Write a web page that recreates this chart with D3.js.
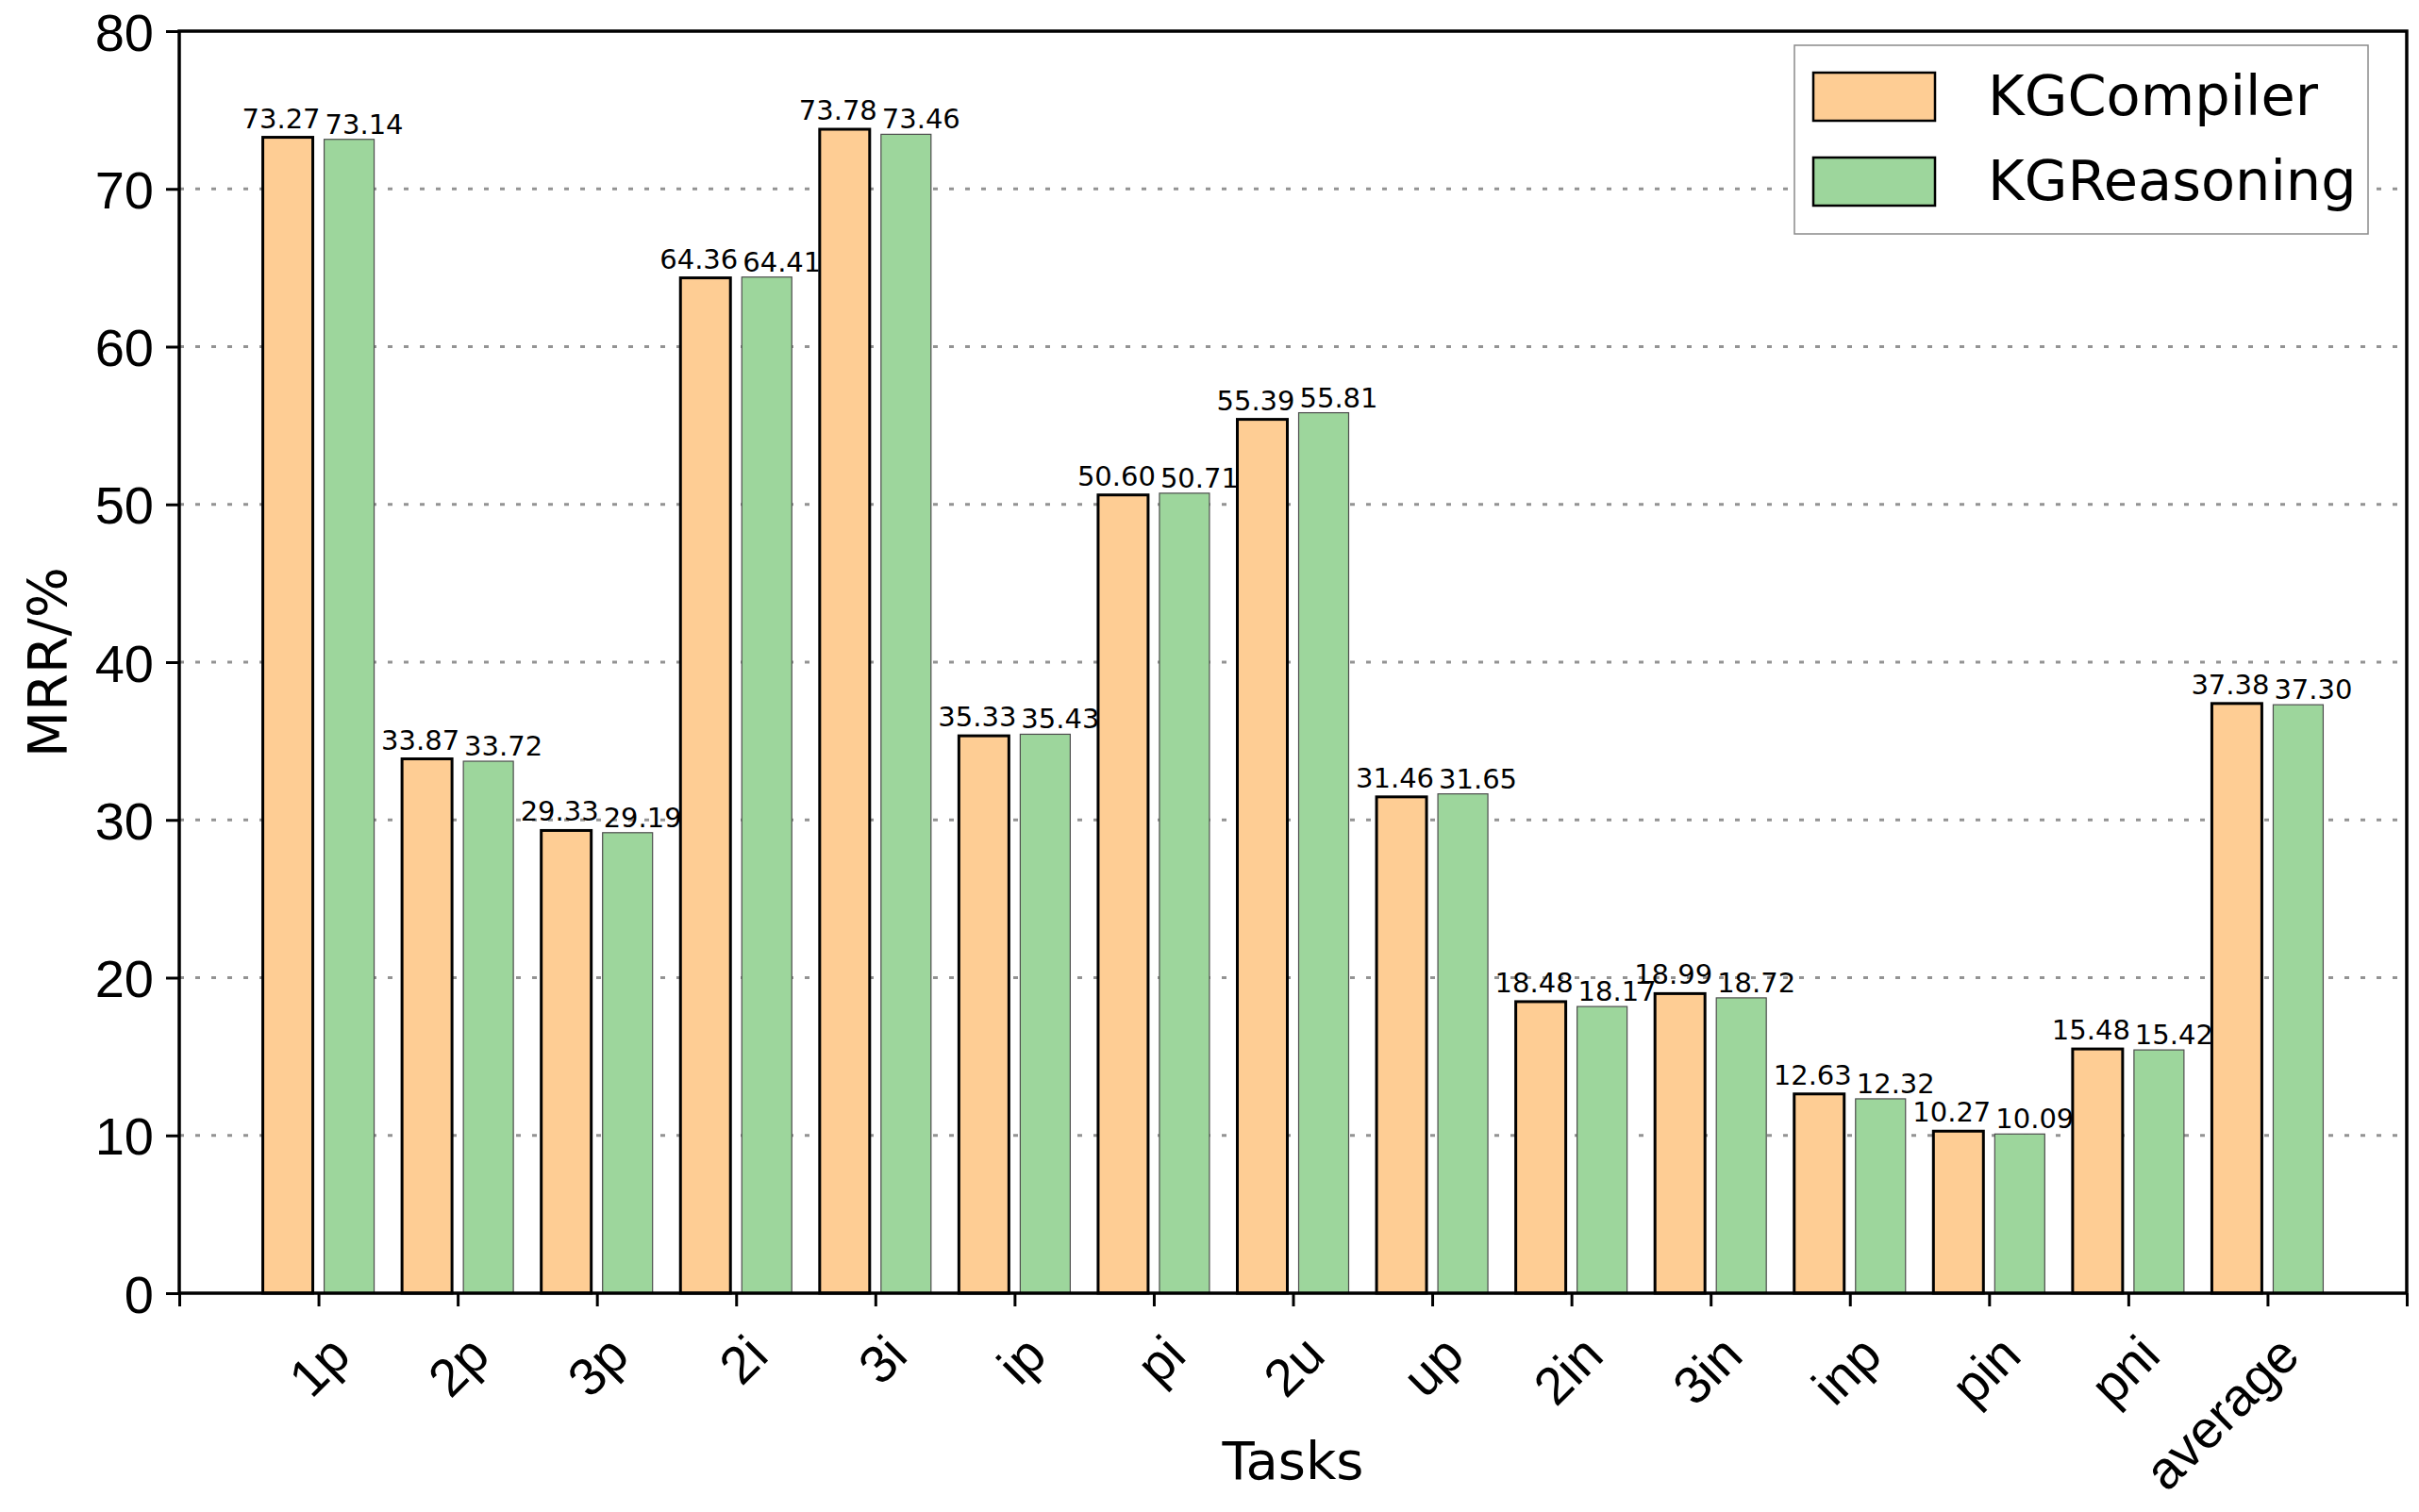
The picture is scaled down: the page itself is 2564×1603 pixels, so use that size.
<!DOCTYPE html>
<html lang="en">
<head>
    <meta charset="UTF-8">
    <title>MRR per task: KGCompiler vs KGReasoning</title>
    <script src="https://d3js.org/d3.v7.min.js"></script>
    <style>
        body {
            margin: 0;
            background: white;
        }
        svg {
            display: block;
            font-family: "DejaVu Sans", sans-serif;
        }
        .grid line {
            stroke: #939393;
            stroke-width: 3.2;
            stroke-dasharray: 5 12;
        }
    </style>
</head>
<body>

    <svg width="2564" height="1603"></svg>

    <script>
        // Data
        const tasks = ["1p", "2p", "3p", "2i", "3i", "ip", "pi", "2u", "up", "2in", "3in", "inp", "pin", "pni", "average"];
        const kgCompiler = [73.27, 33.87, 29.33, 64.36, 73.78, 35.33, 50.60, 55.39, 31.46, 18.48, 18.99, 12.63, 10.27, 15.48, 37.38];
        const kgReasoning = [73.14, 33.72, 29.19, 64.41, 73.46, 35.43, 50.71, 55.81, 31.65, 18.17, 18.72, 12.32, 10.09, 15.42, 37.30];
        const seriesNames = ["KGCompiler", "KGReasoning"];
        const yTicks = [0, 10, 20, 30, 40, 50, 60, 70, 80];

        const colors = {KGCompiler: "#fecd94", KGReasoning: "#9dd69c"};
        const edges = {KGCompiler: {stroke: "#000", width: 3}, KGReasoning: {stroke: "#4d4d4d", width: 1.2}};
        const labelShift = {KGCompiler: -7, KGReasoning: 16};
        const labelLift = {KGCompiler: 10, KGReasoning: 6};

        const plot = {left: 190, right: 2551, top: 33, bottom: 1371};

        // Scales: x positions 0..16 like matplotlib, tasks sit on 1..15
        const x = d3.scaleLinear()
            .domain([0, tasks.length + 1])
            .range([plot.left, plot.right]);

        const inner = d3.scaleBand()
            .domain(seriesNames)
            .range([-59, 59])
            .paddingInner(0.185);

        const y = d3.scaleLinear()
            .domain([0, 80])
            .range([plot.bottom, plot.top]);

        const svg = d3.select("svg");

        // Dotted grid
        svg.append("g")
            .attr("class", "grid")
            .selectAll("line")
            .data(yTicks.filter(t => t > 0 && t < 80))
            .enter().append("line")
            .attr("x1", plot.left)
            .attr("x2", plot.right)
            .attr("y1", d => y(d))
            .attr("y2", d => y(d));

        // Bars
        const rows = tasks.map((t, i) => ({
            task: t,
            idx: i + 1,
            values: [
                {name: "KGCompiler", value: kgCompiler[i]},
                {name: "KGReasoning", value: kgReasoning[i]}
            ]
        }));

        const groups = svg.append("g")
            .selectAll("g")
            .data(rows)
            .enter().append("g")
            .attr("transform", d => `translate(${x(d.idx)},0)`);

        groups.selectAll("rect")
            .data(d => d.values)
            .enter().append("rect")
            .attr("x", d => inner(d.name))
            .attr("width", inner.bandwidth())
            .attr("y", d => y(d.value))
            .attr("height", d => y(0) - y(d.value))
            .attr("fill", d => colors[d.name])
            .attr("stroke", d => edges[d.name].stroke)
            .attr("stroke-width", d => edges[d.name].width);

        // Value labels
        groups.selectAll("text")
            .data(d => d.values)
            .enter().append("text")
            .attr("x", d => inner(d.name) + inner.bandwidth() / 2 + labelShift[d.name])
            .attr("y", d => y(d.value) - labelLift[d.name])
            .attr("text-anchor", "middle")
            .style("font-size", "29px")
            .text(d => d.value.toFixed(2));

        // Axes
        const xAxis = svg.append("g")
            .attr("transform", `translate(0,${plot.bottom})`)
            .call(d3.axisBottom(x)
                .tickValues(d3.range(0, tasks.length + 2))
                .tickFormat(i => tasks[i - 1] || "")
                .tickSize(14));

        xAxis.select(".domain").remove();
        xAxis.selectAll(".tick line").attr("stroke", "#000").attr("stroke-width", 3);
        xAxis.selectAll(".tick text")
            .attr("x", 0)
            .attr("y", 0)
            .attr("dy", null)
            .attr("fill", "#000")
            .attr("text-anchor", "end")
            .attr("transform", "translate(36,69) rotate(-45)")
            .style("font-size", "56px");

        const yAxis = svg.append("g")
            .attr("transform", `translate(${plot.left},0)`)
            .call(d3.axisLeft(y)
                .tickValues(yTicks)
                .tickSize(14)
                .tickPadding(13));

        yAxis.select(".domain").remove();
        yAxis.selectAll(".tick line").attr("stroke", "#000").attr("stroke-width", 3);
        yAxis.selectAll(".tick text")
            .attr("fill", "#000")
            .attr("dy", "0.36em")
            .style("font-size", "56px");

        // Frame
        svg.append("rect")
            .attr("x", plot.left)
            .attr("y", plot.top)
            .attr("width", plot.right - plot.left)
            .attr("height", plot.bottom - plot.top)
            .attr("fill", "none")
            .attr("stroke", "#000")
            .attr("stroke-width", 3.5);

        // Axis labels
        svg.append("text")
            .attr("x", (plot.left + plot.right) / 2)
            .attr("y", 1568)
            .attr("text-anchor", "middle")
            .style("font-size", "56px")
            .text("Tasks");

        svg.append("text")
            .attr("transform", `translate(71,${(plot.top + plot.bottom) / 2}) rotate(-90)`)
            .attr("text-anchor", "middle")
            .style("font-size", "57px")
            .text("MRR/%");

        // Legend
        const legend = svg.append("g").attr("transform", "translate(1902,48)");

        legend.append("rect")
            .attr("width", 608)
            .attr("height", 200)
            .attr("fill", "white")
            .attr("stroke", "#8a8a8a")
            .attr("stroke-width", 1.5);

        const items = legend.selectAll(".item")
            .data(seriesNames)
            .enter().append("g")
            .attr("class", "item")
            .attr("transform", (d, i) => `translate(0,${i * 90})`);

        items.append("rect")
            .attr("x", 20)
            .attr("y", 29)
            .attr("width", 129)
            .attr("height", 51)
            .attr("fill", d => colors[d])
            .attr("stroke", "#000")
            .attr("stroke-width", 2.5);

        items.append("text")
            .attr("x", 205)
            .attr("y", 74)
            .style("font-size", "59px")
            .text(d => d);
    </script>

</body>
</html>
